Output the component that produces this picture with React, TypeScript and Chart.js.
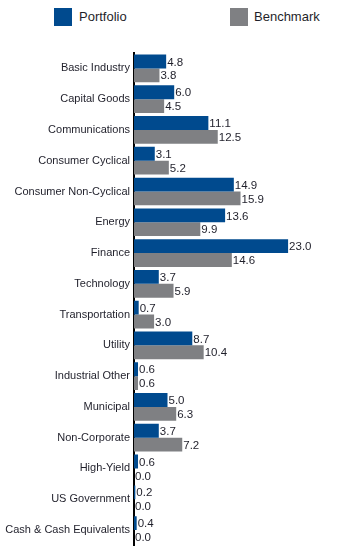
import React, { useEffect, useRef } from "react";
import { Chart, registerables } from "chart.js";

Chart.register(...registerables);

const categories = [
  "Basic Industry",
  "Capital Goods",
  "Communications",
  "Consumer Cyclical",
  "Consumer Non-Cyclical",
  "Energy",
  "Finance",
  "Technology",
  "Transportation",
  "Utility",
  "Industrial Other",
  "Municipal",
  "Non-Corporate",
  "High-Yield",
  "US Government",
  "Cash & Cash Equivalents",
];
const portfolio = [4.8, 6.0, 11.1, 3.1, 14.9, 13.6, 23.0, 3.7, 0.7, 8.7, 0.6, 5.0, 3.7, 0.6, 0.2, 0.4];
const benchmark = [3.8, 4.5, 12.5, 5.2, 15.9, 9.9, 14.6, 5.9, 3.0, 10.4, 0.6, 6.3, 7.2, 0.0, 0.0, 0.0];
const seriesNames = ["Portfolio", "Benchmark"];

const BLUE = "#004a8e";
const GRAY = "#7f8083";
const FONT = "'Liberation Sans', Arial, sans-serif";
const TEXT = "#1f1f2a";

const valueLabels = {
  id: "valueLabels",
  afterDatasetsDraw(chart: any) {
    const ctx = chart.ctx;
    ctx.save();
    ctx.font = `11.5px ${FONT}`;
    ctx.fillStyle = TEXT;
    ctx.textAlign = "left";
    ctx.textBaseline = "middle";
    chart.data.datasets.forEach((ds: any, di: number) => {
      const meta = chart.getDatasetMeta(di);
      meta.data.forEach((el: any, i: number) => {
        const v = ds.data[i] as number;
        ctx.fillText(v.toFixed(1), el.x + 1, el.y + 1);
      });
    });
    ctx.restore();
  },
};

export default function App() {
  const ref = useRef<HTMLCanvasElement | null>(null);
  useEffect(() => {
    document.body.style.margin = "0";
    const chart = new Chart(ref.current!, {
      type: "bar",
      data: {
        labels: categories,
        datasets: [
          { label: seriesNames[0], data: portfolio, backgroundColor: BLUE, barPercentage: 1, categoryPercentage: 0.9 },
          { label: seriesNames[1], data: benchmark, backgroundColor: GRAY, barPercentage: 1, categoryPercentage: 0.9 },
        ],
      },
      options: {
        indexAxis: "y",
        responsive: false,
        animation: false,
        layout: { padding: { top: 53, bottom: -4, left: 0, right: 6 } },
        plugins: { legend: { display: false }, tooltip: { enabled: false } },
        scales: {
          x: { display: false, min: 0, max: 30 },
          y: {
            afterFit: (s: any) => {
              s.width = 134;
            },
            grid: { display: false, drawTicks: false },
            border: { display: true, color: "#000", width: 2 },
            ticks: { padding: 4, color: TEXT, font: { family: FONT, size: 11 } },
          },
        },
      },
      plugins: [valueLabels],
    });
    return () => chart.destroy();
  }, []);

  const legendItem = (name: string, color: string, left: number, textLeft: number) => (
    <div key={name}>
      <div style={{ position: "absolute", left, top: 8, width: 18, height: 18, background: color }} />
      <div
        style={{
          position: "absolute",
          left: textLeft,
          top: 7,
          height: 20,
          lineHeight: "20px",
          fontFamily: FONT,
          fontSize: 13,
          color: TEXT,
          whiteSpace: "nowrap",
        }}
      >
        {name}
      </div>
    </div>
  );

  return (
    <div style={{ position: "relative", width: 341, height: 556 }}>
      {legendItem(seriesNames[0], BLUE, 54, 79)}
      {legendItem(seriesNames[1], GRAY, 230, 254)}
      <canvas ref={ref} width={341} height={556} style={{ position: "absolute", left: 0, top: 0 }} />
    </div>
  );
}
